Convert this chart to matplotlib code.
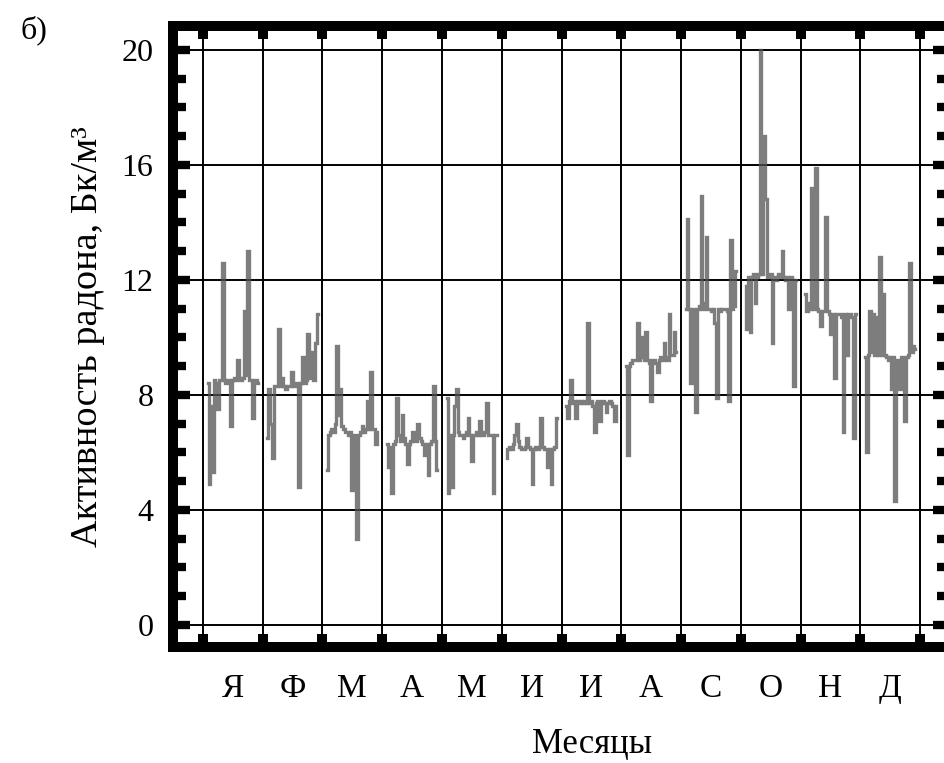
import matplotlib
matplotlib.use('Agg')
import matplotlib.pyplot as plt
from matplotlib.ticker import MultipleLocator, FixedLocator

plt.rcParams['font.family'] = ['Liberation Serif', 'DejaVu Serif']

months = ['Я', 'Ф', 'М', 'А', 'М', 'И', 'И', 'А', 'С', 'О', 'Н', 'Д']

# daily radon activity, Bq/m3, one list per month
jan = [8.4, 4.9, 7.6, 5.3, 8.5, 8.4, 7.5, 8.5, 8.5, 12.6, 8.5, 8.4, 8.5, 8.5, 6.9, 8.5,
       8.6, 8.5, 9.2, 8.6, 8.5, 8.6, 10.9, 8.7, 13.0, 8.5, 8.5, 7.2, 8.5, 8.5, 8.4]
feb = [6.5, 8.2, 7.0, 5.8, 8.3, 8.3, 10.3, 8.3, 8.6, 8.3, 8.2, 8.3, 8.3, 8.8, 8.3, 8.3,
       8.4, 4.8, 8.4, 9.3, 8.4, 8.5, 10.1, 8.6, 9.5, 8.5, 9.8, 10.8]
mar = [5.4, 6.6, 6.7, 6.8, 6.7, 7.0, 9.7, 7.3, 8.2, 6.9, 6.8, 6.7, 6.7, 6.6, 6.7, 4.7,
       6.6, 6.5, 3.0, 6.6, 6.7, 6.9, 6.7, 6.8, 7.8, 6.8, 8.8, 6.8, 6.8, 6.3, 6.7]
apr = [6.3, 5.5, 6.2, 4.6, 6.3, 6.4, 7.9, 6.6, 6.4, 7.3, 6.5, 6.3, 5.6, 6.3, 6.4, 6.7,
       6.4, 6.4, 7.0, 6.5, 6.4, 6.3, 5.9, 6.3, 5.2, 6.3, 6.4, 8.3, 6.4, 5.4]
may = [7.9, 4.6, 6.6, 4.8, 6.6, 7.6, 8.2, 6.7, 6.6, 6.6, 6.5, 6.6, 6.7, 7.2, 6.6, 5.7,
       6.6, 6.6, 6.7, 6.6, 7.1, 6.6, 6.6, 6.7, 7.7, 6.6, 6.6, 6.6, 4.6, 6.6, 6.6]
jun = [5.8, 6.1, 6.2, 6.1, 6.3, 6.6, 7.0, 6.4, 6.2, 6.1, 6.1, 6.2, 6.5, 6.2, 6.1, 4.9,
       6.1, 6.2, 6.1, 6.2, 7.2, 6.2, 6.1, 6.1, 5.5, 6.1, 4.9, 6.1, 6.2, 7.2]
jul = [7.6, 7.2, 7.8, 8.5, 7.7, 7.8, 7.2, 7.8, 7.7, 7.8, 7.7, 7.8, 7.7, 10.5, 7.7, 7.8,
       7.6, 6.7, 7.7, 7.8, 7.1, 7.7, 7.8, 7.7, 7.4, 7.7, 7.8, 7.7, 7.6, 7.1, 7.6]
aug = [9.0, 5.9, 9.0, 9.1, 9.2, 9.2, 9.2, 10.5, 9.2, 9.3, 10.0, 9.2, 10.2, 9.2, 9.1, 7.8,
       9.2, 9.2, 9.1, 8.8, 9.2, 9.3, 9.2, 9.8, 9.3, 9.2, 10.8, 9.4, 9.4, 10.2, 9.5]
sep = [11.0, 14.1, 11.0, 8.4, 11.0, 10.9, 7.4, 11.0, 11.1, 14.9, 11.0, 11.2, 13.5, 11.0,
       11.0, 10.9, 11.0, 10.5, 7.9, 11.0, 10.9, 11.0, 11.0, 11.0, 10.9, 7.8, 13.4, 11.0,
       11.1, 12.3]
oct_ = [11.8, 10.3, 12.1, 10.2, 12.1, 12.2, 11.2, 12.1, 12.2, 20.0, 12.2, 17.0, 14.8,
        12.1, 12.1, 12.2, 9.8, 12.1, 12.0, 12.1, 12.2, 12.1, 13.0, 12.1, 12.0, 12.1, 11.0,
        12.1, 12.0, 8.3, 12.0]
nov = [11.5, 10.9, 11.2, 11.0, 15.2, 11.0, 15.9, 11.0, 10.9, 10.4, 10.9, 10.9, 14.2, 10.9,
       10.8, 10.1, 10.8, 8.6, 10.8, 10.8, 10.8, 10.7, 6.7, 10.8, 9.4, 10.8, 10.8, 10.7, 6.5,
       10.8]
dec = [9.3, 6.0, 9.4, 10.9, 9.5, 10.8, 9.4, 10.7, 9.4, 12.8, 9.4, 11.5, 9.4, 9.3, 9.2, 9.3,
       8.2, 9.3, 4.3, 9.2, 8.6, 8.2, 9.3, 9.2, 7.1, 9.3, 9.4, 12.6, 9.5, 9.7, 9.6]

series = [jan, feb, mar, apr, may, jun, jul, aug, sep, oct_, nov, dec]

fig = plt.figure(figsize=(9.44, 7.63), dpi=100)
ax = fig.add_axes([173 / 944, 1 - 647 / 763, 777 / 944, 621 / 763])

for m, vals in enumerate(series):
    n = len(vals)
    xs = [m + 0.08 + 0.84 * d / (n - 1) for d in range(n)]
    ax.plot(xs, vals, color='0.32', lw=2.4, alpha=0.75, drawstyle='steps-mid',
            solid_joinstyle='miter', zorder=3)

ax.set_xlim(-0.5, 12.5)
ax.set_ylim(-0.77, 20.83)

ax.xaxis.set_major_locator(FixedLocator(range(13)))
ax.xaxis.set_minor_locator(FixedLocator([m + 0.5 for m in range(12)]))
ax.set_xticklabels([], minor=False)
ax.set_xticklabels(months, minor=True)
ax.yaxis.set_major_locator(MultipleLocator(4))
ax.yaxis.set_minor_locator(MultipleLocator(1))

ax.grid(True, which='major', color='black', lw=1.4, zorder=1)

ax.tick_params(axis='x', which='major', direction='in', top=True, bottom=True,
               length=9.4, width=7.2, color='black')
ax.tick_params(axis='x', which='minor', length=0, pad=19, labelsize=24)
ax.tick_params(axis='y', which='major', direction='in', left=True, right=True,
               length=12.5, width=6, labelsize=23, pad=14)
ax.tick_params(axis='y', which='minor', direction='in', left=True, right=True,
               length=9.4, width=6)

for s in ax.spines.values():
    s.set_linewidth(7.2)

ax.set_ylabel('Активность радона, Бк/м³', fontsize=27.5, labelpad=12)
fig.text(592 / 944, 1 - 745 / 763, 'Месяцы', fontsize=25, ha='center', va='center')
fig.text(20 / 944, 1 - 30 / 763, 'б)', fontsize=23, ha='left', va='center')

fig.savefig('out.png', dpi=100)
